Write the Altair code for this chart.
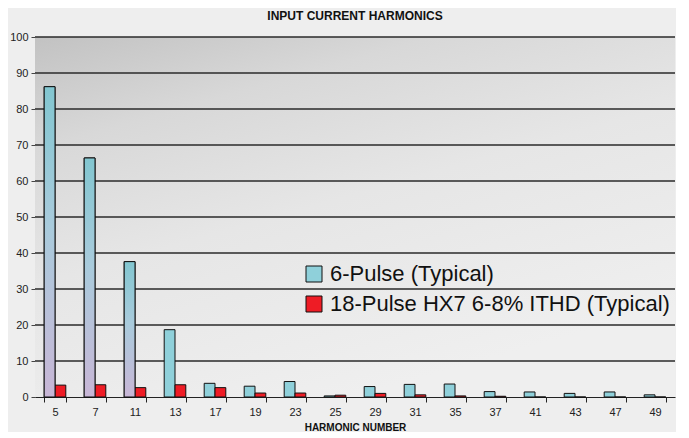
import altair as alt
import pandas as pd

harmonics = [5, 7, 11, 13, 17, 19, 23, 25, 29, 31, 35, 37, 41, 43, 47, 49]
six_pulse = [86.2, 66.4, 37.6, 18.7, 3.8, 3.0, 4.3, 0.3, 2.9, 3.5, 3.6, 1.5, 1.4, 1.0, 1.4, 0.6]
eighteen_pulse = [3.3, 3.4, 2.6, 3.4, 2.6, 1.1, 1.1, 0.5, 1.0, 0.6, 0.3, 0.2, 0.0, 0.0, 0.0, 0.0]
series_names = ["6-Pulse (Typical)", "18-Pulse HX7 6-8% ITHD (Typical)"]
series_colors = ["#8fd0da", "#ee1c25"]
y_ticks = [10, 20, 30, 40, 50, 60, 70, 80, 90, 100]

rows = []
for h, a, b in zip(harmonics, six_pulse, eighteen_pulse):
    rows.append({"harmonic": str(h), "series": series_names[0], "value": a})
    rows.append({"harmonic": str(h), "series": series_names[1], "value": b})
df = pd.DataFrame(rows)
grid_df = pd.DataFrame({"value": y_ticks})

FONT = "Liberation Sans"
W, H = 640, 360
order = [str(h) for h in harmonics]

x_enc = alt.X("harmonic:N", sort=order,
              scale=alt.Scale(paddingInner=0.46, paddingOuter=0.23),
              axis=alt.Axis(title="HARMONIC NUMBER", labelAngle=0, tickBand="extent",
                            tickSize=5, labelPadding=4, labelFontSize=11,
                            titleFontSize=10, titleFontWeight="bold", titlePadding=5,
                            domainColor="#222", tickColor="#222", labelColor="#222",
                            titleColor="#111", grid=False, labelOverlap=False))
y_scale = alt.Scale(domain=[0, 100], nice=False)
y_axis = alt.Axis(title=None, values=[0] + y_ticks, tickSize=4, labelPadding=3,
                  labelFontSize=11, domainColor="#444", tickColor="#444",
                  labelColor="#222", grid=False, labelOverlap=False)
y_enc = alt.Y("value:Q", scale=y_scale, axis=y_axis)
xoff = alt.XOffset("series:N", sort=series_names)

bg = alt.Chart(alt.Data(values=[{}])).mark_rect(
    color=alt.LinearGradient(
        gradient="linear", x1=0, y1=0, x2=0.5, y2=1,
        stops=[alt.GradientStop(color="#c2c2c2", offset=0),
               alt.GradientStop(color="#d8d8d8", offset=0.25),
               alt.GradientStop(color="#e6e6e6", offset=0.55),
               alt.GradientStop(color="#efefef", offset=1)])
).encode(x=alt.value(0), x2=alt.value(W), y=alt.value(0), y2=alt.value(H))

grid = alt.Chart(grid_df).mark_rule(color="#2a2a2a", strokeWidth=1.5).encode(
    y=alt.Y("value:Q", scale=y_scale, axis=y_axis)
)

bars = alt.Chart(df).mark_bar(stroke="#111", strokeWidth=1).encode(
    x=x_enc, y=y_enc, xOffset=xoff,
    color=alt.Color("series:N", sort=series_names,
                    scale=alt.Scale(domain=series_names, range=series_colors),
                    legend=alt.Legend(title=None, orient="none", legendX=268, legendY=226,
                                      symbolType="square", symbolSize=256,
                                      symbolStrokeColor="#111", symbolStrokeWidth=1,
                                      labelFontSize=22, labelColor="#111", labelFont=FONT,
                                      rowPadding=8, labelOffset=5, padding=0,
                                      labelLimit=500))
)

tall = alt.Chart(df).transform_filter(
    (alt.datum.series == series_names[0]) & (alt.datum.value > 30)
).mark_bar(
    stroke="#111", strokeWidth=1,
    color=alt.LinearGradient(
        gradient="linear", x1=0, y1=0, x2=0, y2=1,
        stops=[alt.GradientStop(color="#82c6d0", offset=0),
               alt.GradientStop(color="#a9cbdc", offset=0.45),
               alt.GradientStop(color="#c8b6d6", offset=1)])
).encode(x=x_enc, y=y_enc, xOffset=xoff)

chart = alt.layer(bg, grid, bars, tall).properties(
    width=W, height=H,
    title=alt.TitleParams("INPUT CURRENT HARMONICS", fontSize=12, fontWeight="bold",
                          font=FONT, color="#111", offset=8),
    padding={"left": 1, "top": 2, "right": 0, "bottom": 0},
    background="#eeeeee",
).configure_view(stroke=None).configure_axis(labelFont=FONT, titleFont=FONT)

chart.save("out.html", embed_options={"renderer": "svg", "actions": False})
